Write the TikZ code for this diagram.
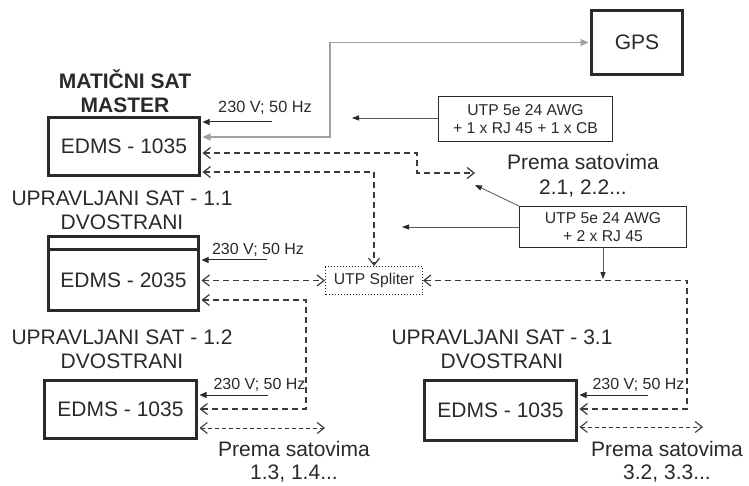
\documentclass[tikz,border=0pt]{standalone}
\usepackage{fontspec}
\setmainfont{Liberation Sans}
\usetikzlibrary{arrows.meta}
\newcommand\dgBig{\fontsize{21}{24.5}\selectfont}
\newcommand\dgPwr{\fontsize{16}{18}\selectfont}
\newcommand\dgUtp{\fontsize{15.7}{18.5}\selectfont}
\definecolor{ink}{HTML}{2A2A2A}
\definecolor{lnk}{HTML}{3A3A3A}
\definecolor{gl}{HTML}{A0A0A0}
\tikzset{
  clockbox/.style={draw=ink, line width=3pt, inner sep=0pt, text=ink, font=\dgBig},
  utpbox/.style={draw=ink, line width=1pt, inner sep=0pt, text=ink, font=\dgUtp, align=center},
  splitbox/.style={draw=ink, dotted, line width=1pt, inner sep=0pt, text=ink, font=\dgUtp},
  title/.style={inner sep=0pt, text=ink, font=\dgBig, align=center},
  pwrlbl/.style={inner sep=0pt, text=ink, font=\dgPwr},
  pwr/.style={draw=ink, line width=1pt, -{Triangle[length=7pt,width=6pt]}},
  thin/.style={draw=gray!70!black, line width=0.8pt, -{Triangle[length=7pt,width=5pt,fill=ink,color=ink]}},
  glink/.style={draw=gl, line width=1.2pt, {Triangle[length=8pt,width=7pt]}-{Triangle[length=8pt,width=7pt]}},
  dlink/.style={draw=lnk, line width=1.2pt, dash pattern=on 6pt off 4pt, {Straight Barb[length=7pt,width=11pt,line width=1.2pt]}-{Straight Barb[length=7pt,width=11pt,line width=1.2pt]}},
  dshort/.style={draw=lnk, line width=1pt, dash pattern=on 4pt off 3pt, {Straight Barb[length=7pt,width=11pt,line width=1.1pt]}-{Straight Barb[length=7pt,width=11pt,line width=1.1pt]}}
}
\begin{document}
\begin{tikzpicture}[x=1pt,y=-1pt]
\useasboundingbox[fill=white] (0,0) rectangle (749,486);

% boxes
\node[clockbox, minimum width=151pt, minimum height=58pt] (master) at (124,146.5) {EDMS - 1035};
\node[clockbox, minimum width=91pt, minimum height=64pt] (gps) at (637,42.5) {GPS};
\node[clockbox, minimum width=150pt, minimum height=13.5pt] (s11h) at (123.5,243.25) {};
\node[clockbox, minimum width=150pt, minimum height=60.5pt] (s11) at (123.5,280.25) {EDMS - 2035};
\node[clockbox, minimum width=152pt, minimum height=58pt] (s12) at (120.5,409.5) {EDMS - 1035};
\node[clockbox, minimum width=152pt, minimum height=60pt] (s31) at (500.5,410.5) {EDMS - 1035};
\node[utpbox, minimum width=174pt, minimum height=45pt] (utp1) at (525.5,119) {UTP 5e 24 AWG\\+ 1 x RJ 45 + 1 x CB};
\node[utpbox, minimum width=167pt, minimum height=41pt] (utp2) at (603,227) {UTP 5e 24 AWG\\+ 2 x RJ 45};
\node[splitbox, minimum width=97pt, minimum height=28pt] (split) at (374,280.5) {UTP Spliter};

% titles
\node[title, font=\dgBig\bfseries] (tm) at (125,91) {MATIČNI SAT\\MASTER};
\node[title] (t11) at (122,210.5) {UPRAVLJANI SAT - 1.1\\DVOSTRANI};
\node[title] (t12) at (122,349.5) {UPRAVLJANI SAT - 1.2\\DVOSTRANI};
\node[title] (t31) at (502,349.5) {UPRAVLJANI SAT - 3.1\\DVOSTRANI};
\node[title] (p2) at (583,175.5) {Prema satovima\\2.1, 2.2...};
\node[title, font=\fontsize{21}{23}\selectfont] (p1) at (294,462) {Prema satovima\\1.3, 1.4...};
\node[title, font=\fontsize{21}{23}\selectfont] (p3) at (667,462) {Prema satovima\\3.2, 3.3...};

% power labels and arrows
\node[pwrlbl, font=\fontsize{16.3}{18}\selectfont] (l0) at (265,108) {230 V; 50 Hz};
\node[pwrlbl] (l1) at (258,250) {230 V; 50 Hz};
\node[pwrlbl] (l2) at (259.5,385) {230 V; 50 Hz};
\node[pwrlbl] (l3) at (638.5,385) {230 V; 50 Hz};
\coordinate (pw0) at (272,122);
\coordinate (pw1) at (267,260);
\coordinate (pw2) at (268,395);
\coordinate (pw3) at (648,395);
\draw[pwr, shorten >=1.5pt] (pw0) -- (master.east |- pw0);
\draw[pwr, shorten >=1.5pt] (pw1) -- (s11.east |- pw1);
\draw[pwr, shorten >=1.5pt] (pw2) -- (s12.east |- pw2);
\draw[pwr, shorten >=1.5pt] (pw3) -- (s31.east |- pw3);

% GPS link
\draw[glink, shorten <=1.5pt, shorten >=1.5pt] (master.east |- 0,137) -- (330,137) |- (gps.west);

% UTP pointers
\coordinate (u1) at (352,118);
\draw[thin] (utp1.west |- u1) -- (u1);
\coordinate (u2a) at (475,185);
\coordinate (u2b) at (402,227);
\coordinate (u2c) at (603,279);
\draw[thin] (utp2.north west) -- (u2a);
\draw[thin] (utp2.west) -- (u2b);
\draw[thin] (utp2.south) -- (u2c);

% dashed links
\draw[dlink, shorten <=1.5pt] (master.east |- 0,153) -| (417,173) -- (475,173);
\draw[dlink, shorten <=1.5pt] (master.east |- 0,172) -| (split.north);
\draw[dlink, shorten <=1.5pt] (s11.east |- split.west) -- (split.west);
\draw[dlink, shorten <=1.5pt, shorten >=1.5pt] (s11.east |- 0,300) -| (306,409) -- (s12.east |- 0,409);
\draw[dlink, shorten >=1.5pt] (split.east) -- (687,280.5) |- (s31.east |- 0,409);
\draw[dshort, shorten <=1.5pt] (s12.east |- 0,428) -- (325,428);
\draw[dshort, shorten <=1.5pt] (s31.east |- 0,427) -- (703,427);
\end{tikzpicture}
\end{document}
